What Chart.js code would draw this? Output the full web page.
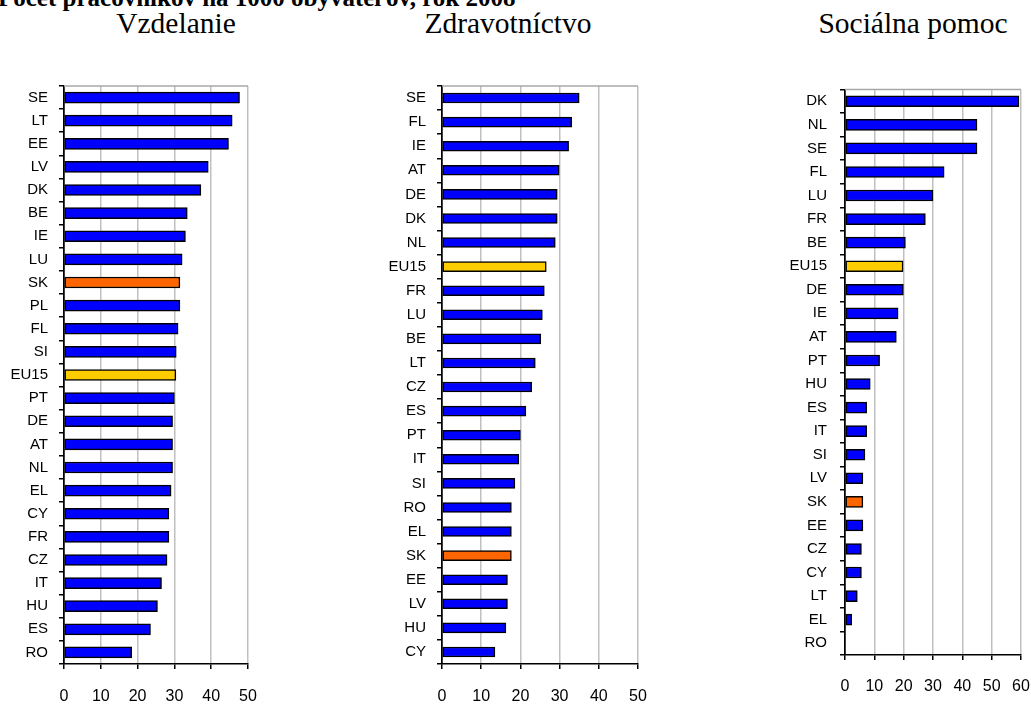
<!DOCTYPE html>
<html>
<head>
<meta charset="utf-8">
<script src="https://cdn.jsdelivr.net/npm/chart.js@4"></script>
<style>
  body { margin: 0; width: 1031px; height: 707px; background: #fff; overflow: hidden; position: relative; }
  .title { position: absolute; font-family: "Liberation Serif", "Times New Roman", serif; color: #000; white-space: nowrap; }
  .main { left: -2px; top: -15px; font-size: 25px; font-weight: bold; line-height: 25px; }
  .sub { width: 300px; text-align: center; font-size: 29.5px; line-height: 30px; top: 8px; }
  .box { position: absolute; top: 75px; height: 632px; }
</style>
</head>
<body>
<div class="title main">Počet pracovníkov na 1000 obyvateľov, rok 2008</div>
<div class="title sub" style="left:26px">Vzdelanie</div>
<div class="title sub" style="left:358px">Zdravotníctvo</div>
<div class="title sub" style="left:763px">Sociálna pomoc</div>

<div class="box" style="left:0px;width:262px"><canvas id="edu"></canvas></div>
<div class="box" style="left:380px;width:270px"><canvas id="health"></canvas></div>
<div class="box" style="left:770px;width:261px"><canvas id="social"></canvas></div>

<script>
const eduLabels = ['SE','LT','EE','LV','DK','BE','IE','LU','SK','PL','FL','SI','EU15','PT','DE','AT','NL','EL','CY','FR','CZ','IT','HU','ES','RO'];
const eduValues = [47.7,45.7,44.7,39.2,37.2,33.5,33.0,32.1,31.5,31.5,31.0,30.5,30.4,30.0,29.5,29.5,29.5,29.1,28.5,28.5,28.0,26.5,25.4,23.5,18.4];

const healthLabels = ['SE','FL','IE','AT','DE','DK','NL','EU15','FR','LU','BE','LT','CZ','ES','PT','IT','SI','RO','EL','SK','EE','LV','HU','CY'];
const healthValues = [35.0,33.1,32.3,29.9,29.4,29.4,28.9,26.6,26.1,25.6,25.2,23.8,22.9,21.4,20.0,19.6,18.6,17.7,17.7,17.7,16.7,16.7,16.3,13.5];

const socialLabels = ['DK','NL','SE','FL','LU','FR','BE','EU15','DE','IE','AT','PT','HU','ES','IT','SI','LV','SK','EE','CZ','CY','LT','EL','RO'];
const socialValues = [59.3,45.0,45.0,33.8,30.0,27.4,20.6,19.8,19.9,18.1,17.5,11.8,8.6,7.4,7.4,6.8,6.1,6.1,6.1,5.6,5.6,4.2,2.3,0];

const eduMax = 50, healthMax = 50, socialMax = 60;
const tickStep = 10;

const topBorder = {
    id: 'topBorder',
    beforeDatasetsDraw(chart) {
        const {ctx, chartArea: a} = chart;
        ctx.save();
        ctx.strokeStyle = '#a8a8a8';
        ctx.lineWidth = 1.5;
        ctx.beginPath();
        ctx.moveTo(a.left, a.top);
        ctx.lineTo(a.right, a.top);
        ctx.stroke();
        ctx.restore();
    }
};

function barColor(label) {
    if (label === 'SK') return '#ff6600';
    if (label === 'EU15') return '#ffcc00';
    return '#0000ff';
}

function makeChart(id, labels, values, max, o) {
    const ctx = document.getElementById(id).getContext('2d');
    return new Chart(ctx, {
        type: 'bar',
        data: {
            labels: labels,
            datasets: [{
                data: values,
                backgroundColor: labels.map(barColor),
                borderColor: '#000',
                borderWidth: 1.5,
                borderSkipped: false,
                barThickness: o.bar
            }]
        },
        options: {
            indexAxis: 'y',
            responsive: true,
            maintainAspectRatio: false,
            animation: false,
            layout: {
                padding: { top: o.top, right: o.right, left: 0, bottom: 0 }
            },
            plugins: {
                legend: { display: false },
                tooltip: { enabled: false }
            },
            scales: {
                x: {
                    min: 0,
                    max: max,
                    // fixed box sizes so the plot lands where the original's does
                    afterFit: s => { s.height = o.xh; s.paddingLeft = 0; s.paddingRight = 0; },
                    ticks: {
                        stepSize: tickStep,
                        padding: o.xpad,
                        color: '#000',
                        font: { family: 'Liberation Sans, Arial, sans-serif', size: 16 }
                    },
                    grid: {
                        color: c => c.tick && c.tick.value === 0 ? '#000' : '#c0c0c0',
                        lineWidth: 1.5,
                        tickColor: '#000',
                        tickLength: 5
                    },
                    border: { color: '#000', width: 1.5 }
                },
                y: {
                    afterFit: s => { s.width = o.yw; s.paddingTop = 0; s.paddingBottom = 0; },
                    ticks: {
                        padding: o.ypad,
                        color: '#000',
                        autoSkip: false,
                        font: { family: 'Liberation Sans, Arial, sans-serif', size: 15 }
                    },
                    grid: {
                        drawOnChartArea: false,
                        tickColor: '#000',
                        tickLength: 5,
                        lineWidth: 1.5
                    },
                    border: { color: '#000', width: 1.5 }
                }
            }
        },
        plugins: [topBorder]
    });
}

makeChart('edu', eduLabels, eduValues, eduMax,
    { top: 11, right: 14, yw: 64, xh: 43, xpad: 18, ypad: 11, bar: 11 });
makeChart('health', healthLabels, healthValues, healthMax,
    { top: 11, right: 12, yw: 62, xh: 43, xpad: 18, ypad: 11, bar: 10 });
makeChart('social', socialLabels, socialValues, socialMax,
    { top: 14.5, right: 10, yw: 75, xh: 52, xpad: 17, ypad: 13, bar: 11 });
</script>
</body>
</html>
